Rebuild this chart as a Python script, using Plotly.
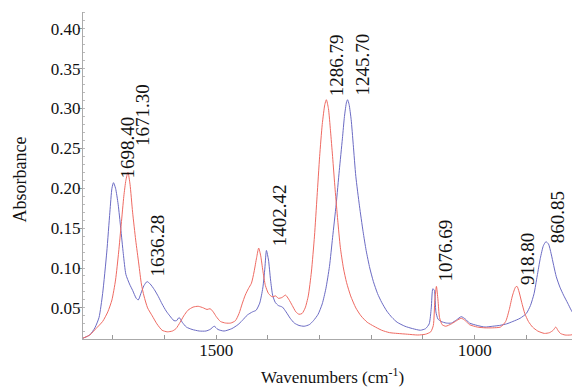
import plotly.graph_objects as go

# ---- data ----
wn_blue = [1758, 1745, 1735, 1727, 1720, 1712, 1706, 1702, 1699, 1695, 1690, 1685, 1680, 1675, 1668,
           1662, 1655, 1651, 1646, 1640, 1634, 1628, 1620, 1612, 1605, 1597, 1590, 1582, 1577, 1572,
           1566, 1558, 1547, 1533, 1520, 1512, 1504, 1497, 1485, 1470, 1458, 1450, 1440, 1430, 1423,
           1416, 1410, 1406, 1403, 1399, 1395, 1391, 1386, 1380, 1372, 1365, 1357, 1349, 1340, 1330,
           1320, 1312, 1303, 1295, 1288, 1281, 1275, 1268, 1262, 1256, 1252, 1248, 1246, 1243, 1239,
           1235, 1230, 1223, 1216, 1210, 1203, 1196, 1188, 1180, 1170, 1160, 1150, 1135, 1120, 1105,
           1095, 1088, 1084, 1081, 1078, 1075, 1071, 1065, 1055, 1045, 1035, 1026, 1018, 1010, 995,
           980, 965, 952, 938, 926, 912, 900, 892, 885, 879, 873, 867, 862, 857, 852,
           847, 842, 835, 828, 820, 813, 808, 804, 800]
abs_blue = [0.012, 0.016, 0.025, 0.038, 0.068, 0.120, 0.170, 0.200, 0.207, 0.200, 0.180, 0.150, 0.118, 0.092, 0.080,
            0.072, 0.062, 0.060, 0.068, 0.078, 0.083, 0.080, 0.073, 0.064, 0.055, 0.046, 0.040, 0.034, 0.034, 0.038,
            0.032, 0.026, 0.023, 0.021, 0.021, 0.023, 0.027, 0.023, 0.021, 0.024, 0.029, 0.034, 0.041, 0.045, 0.047,
            0.056, 0.075, 0.100, 0.122, 0.110, 0.085, 0.066, 0.057, 0.053, 0.051, 0.045, 0.037, 0.031, 0.028, 0.027,
            0.029, 0.034, 0.042, 0.055, 0.074, 0.102, 0.138, 0.180, 0.222, 0.262, 0.290, 0.308, 0.311, 0.305, 0.286,
            0.255, 0.215, 0.178, 0.146, 0.122, 0.100, 0.083, 0.068, 0.057, 0.046, 0.038, 0.032, 0.027, 0.024, 0.022,
            0.024, 0.030, 0.050, 0.074, 0.072, 0.045, 0.036, 0.033, 0.031, 0.031, 0.035, 0.039, 0.036, 0.031, 0.028,
            0.026, 0.027, 0.028, 0.030, 0.033, 0.037, 0.043, 0.053, 0.068, 0.090, 0.112, 0.128, 0.133, 0.130, 0.118,
            0.103, 0.089, 0.076, 0.066, 0.056, 0.047, 0.042, 0.043, 0.050]

wn_red = [1758, 1745, 1733, 1720, 1710, 1702, 1695, 1689, 1684, 1679, 1675, 1671, 1667, 1662, 1656,
          1650, 1645, 1640, 1633, 1624, 1615, 1605, 1595, 1585, 1578, 1570, 1563, 1555, 1545, 1535,
          1525, 1518, 1512, 1506, 1500, 1492, 1482, 1472, 1463, 1456, 1450, 1444, 1438, 1432, 1427,
          1422, 1418, 1414, 1410, 1405, 1399, 1392, 1385, 1380, 1373, 1366, 1360, 1353, 1346, 1340,
          1334, 1328, 1322, 1316, 1310, 1305, 1300, 1295, 1290, 1287, 1283, 1279, 1275, 1270, 1265,
          1260, 1254, 1248, 1240, 1230, 1220, 1208, 1195, 1180, 1165, 1150, 1130, 1110, 1095, 1085,
          1080, 1077, 1074, 1071, 1068, 1063, 1056, 1045, 1035, 1026, 1018, 1010, 995, 980, 965,
          950, 940, 933, 927, 921, 918, 914, 909, 903, 896, 888, 878, 865, 855, 848,
          843, 839, 834, 825, 815, 808, 803, 800]
abs_red = [0.012, 0.016, 0.024, 0.033, 0.045, 0.060, 0.085, 0.120, 0.155, 0.190, 0.210, 0.220, 0.205, 0.170, 0.135,
           0.105, 0.080, 0.065, 0.050, 0.040, 0.030, 0.022, 0.020, 0.021, 0.024, 0.032, 0.040, 0.047, 0.051, 0.052,
           0.050, 0.048, 0.049, 0.045, 0.039, 0.033, 0.031, 0.031, 0.034, 0.043, 0.055, 0.066, 0.074, 0.081, 0.095,
           0.113, 0.125, 0.115, 0.097, 0.078, 0.068, 0.064, 0.065, 0.062, 0.063, 0.066, 0.061, 0.053, 0.045, 0.042,
           0.043, 0.050, 0.065, 0.095, 0.140, 0.190, 0.240, 0.280, 0.305, 0.311, 0.300, 0.272, 0.240, 0.198, 0.160,
           0.126, 0.100, 0.082, 0.065, 0.050, 0.040, 0.032, 0.027, 0.022, 0.019, 0.018, 0.017, 0.016, 0.017, 0.020,
           0.028, 0.060, 0.077, 0.060, 0.038, 0.029, 0.027, 0.030, 0.034, 0.037, 0.034, 0.029, 0.026, 0.025, 0.025,
           0.026, 0.033, 0.048, 0.065, 0.076, 0.077, 0.070, 0.057, 0.043, 0.033, 0.026, 0.021, 0.018, 0.019, 0.022,
           0.026, 0.022, 0.018, 0.016, 0.016, 0.017, 0.020, 0.025]

peak_labels = ["1698.40", "1671.30", "1636.28", "1402.42", "1286.79", "1245.70", "1076.69", "918.80", "860.85"]
peak_heights = [0.207, 0.220, 0.083, 0.122, 0.311, 0.311, 0.077, 0.077, 0.133]

y_tickvals = [0.05, 0.10, 0.15, 0.20, 0.25, 0.30, 0.35, 0.40]
x_tickvals = [1700, 1600, 1500, 1400, 1300, 1200, 1100, 1000, 900, 800]
x_ticktext = ["", "", "1500", "", "", "", "", "1000", "", ""]

x_title = "Wavenumbers (cm<sup>-1</sup>)"
y_title = "Absorbance"

# ---- layout-only offsets for the rotated peak labels (pixels) ----
label_dx = [14, 15, 12, 13, 10, 15, 10, 11, 11]
label_dy = [2, 24, 3, 2, 2, 2, 3, -1, -4]

BLUE = "#6b6bc4"
RED = "#ef6a62"
FONT = "Liberation Serif"

fig = go.Figure()
fig.add_trace(go.Scatter(x=wn_blue, y=abs_blue, mode="lines", line=dict(color=BLUE, width=1, shape="spline", smoothing=0.6),
                         showlegend=False, hoverinfo="skip"))
fig.add_trace(go.Scatter(x=wn_red, y=abs_red, mode="lines", line=dict(color=RED, width=1, shape="spline", smoothing=0.6),
                         showlegend=False, hoverinfo="skip"))

for txt, h, dx, dy in zip(peak_labels, peak_heights, label_dx, label_dy):
    fig.add_annotation(x=float(txt), y=h, text=txt, showarrow=False, textangle=-90,
                       xanchor="center", yanchor="bottom", xshift=dx, yshift=dy,
                       font=dict(family=FONT, size=19, color="#111111"))

# axis titles as paper-anchored text
fig.add_annotation(x=0.5, y=0, xref="paper", yref="paper", text=x_title, showarrow=False,
                   xanchor="center", yanchor="top", yshift=-24, xshift=2,
                   font=dict(family=FONT, size=17, color="#111111"))
fig.add_annotation(x=0, y=0.5, xref="paper", yref="paper", text=y_title, showarrow=False, textangle=-90,
                   xanchor="right", yanchor="middle", xshift=-52, yshift=-4,
                   font=dict(family=FONT, size=18, color="#111111"))

# the page body adds an 8 px offset, so the figure is 8 px smaller on each side
fig.update_layout(
    width=572, height=380,
    margin=dict(l=75, r=2, t=4, b=49),
    paper_bgcolor="white", plot_bgcolor="white",
    font=dict(family=FONT, size=17, color="#111111"),
)
fig.update_xaxes(range=[1758, 800], tickvals=x_tickvals, ticktext=x_ticktext, automargin=False,
                 ticks="inside", ticklen=4, tickcolor="#999999", ticklabelstandoff=-4,
                 showline=True, linecolor="#aaaaaa", linewidth=1, showgrid=False, zeroline=False,
                 tickfont=dict(size=17))
fig.update_yaxes(range=[0.011, 0.421], tickvals=y_tickvals, tickformat=".2f", automargin=False,
                 ticks="outside", ticklen=4, tickcolor="#999999", ticklabelstandoff=-6,
                 minor=dict(dtick=0.01, ticks="inside", ticklen=2, tickcolor="#bbbbbb"),
                 showline=True, linecolor="#aaaaaa", linewidth=1, showgrid=False, zeroline=False,
                 tickfont=dict(size=17))

fig.write_html("out.html")
